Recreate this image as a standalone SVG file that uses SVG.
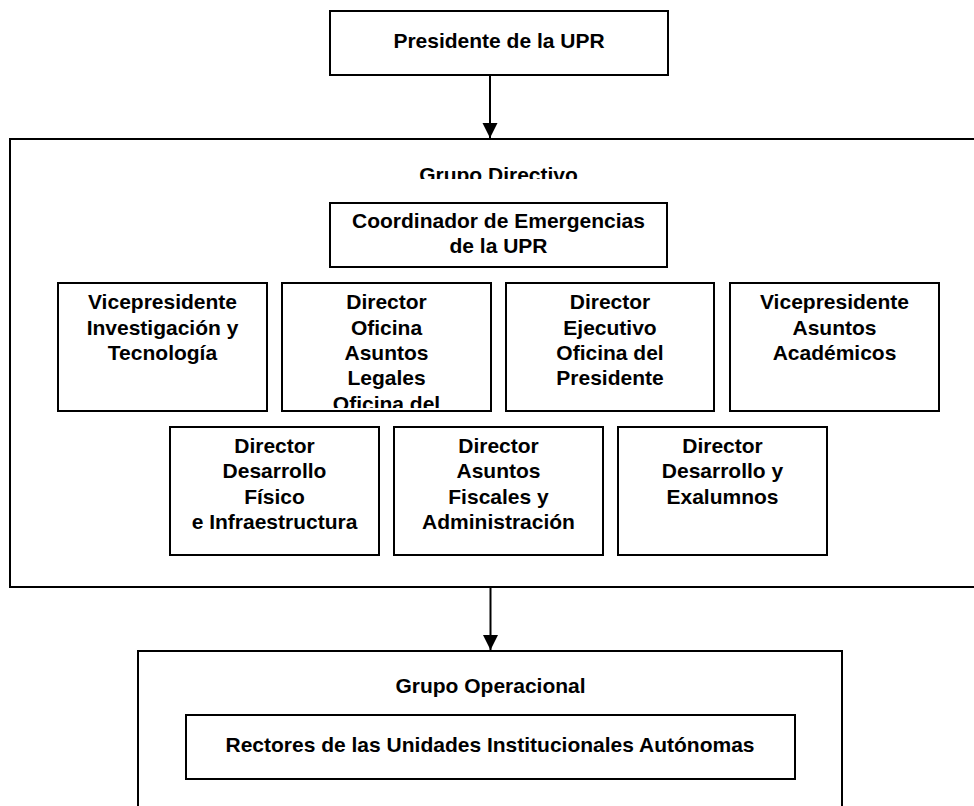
<svg xmlns="http://www.w3.org/2000/svg" width="974" height="806" viewBox="0 0 974 806">
<style>
.box{fill:#fff;stroke:#000;stroke-width:2}
.grp{fill:none;stroke:#000;stroke-width:2}
.t{font-family:"Liberation Sans",Arial,sans-serif;font-weight:bold;font-size:21px;fill:#000;text-anchor:middle}
.c{stroke:#000;stroke-width:2;fill:none}
</style>
<defs>
<marker id="ah" markerUnits="userSpaceOnUse" markerWidth="16" markerHeight="16" viewBox="0 0 16 16" refX="15" refY="8" orient="auto">
<path d="M0,0.5 L15,8 L0,15.5 Z" fill="#000"/>
</marker>
<clipPath id="cgd"><rect x="0" y="140" width="974" height="39"/></clipPath>
<clipPath id="cb2"><rect x="283" y="284" width="207" height="124"/></clipPath>
</defs>
<rect width="974" height="806" fill="#fff"/>

<g id="grupo-directivo">
<rect class="grp" x="10" y="139" width="980" height="448"/>
<text class="t" x="498.5" y="182" clip-path="url(#cgd)">Grupo Directivo</text>
</g>

<g id="grupo-operacional">
<rect class="grp" x="138" y="651" width="704" height="200"/>
<text class="t" x="490.5" y="693">Grupo Operacional</text>
</g>

<g id="presidente">
<rect class="box" x="330" y="11" width="338" height="64"/>
<text class="t" x="499" y="48">Presidente de la UPR</text>
</g>

<g id="coordinador">
<rect class="box" x="330" y="203" width="337" height="64"/>
<text class="t" x="498.5" y="228">Coordinador de Emergencias</text>
<text class="t" x="498.5" y="253">de la UPR</text>
</g>

<g id="vp-investigacion">
<rect class="box" x="58" y="283" width="209" height="128"/>
<text class="t" x="162.5" y="309">Vicepresidente</text>
<text class="t" x="162.5" y="335">Investigación y</text>
<text class="t" x="162.5" y="360">Tecnología</text>
</g>

<g id="dir-asuntos-legales">
<rect class="box" x="282" y="283" width="209" height="128"/>
<g clip-path="url(#cb2)">
<text class="t" x="386.5" y="309">Director</text>
<text class="t" x="386.5" y="335">Oficina</text>
<text class="t" x="386.5" y="360">Asuntos</text>
<text class="t" x="386.5" y="385">Legales</text>
<text class="t" x="386.5" y="411">Oficina del</text>
</g>
</g>

<g id="dir-ejecutivo">
<rect class="box" x="506" y="283" width="208" height="128"/>
<text class="t" x="610" y="309">Director</text>
<text class="t" x="610" y="335">Ejecutivo</text>
<text class="t" x="610" y="360">Oficina del</text>
<text class="t" x="610" y="385">Presidente</text>
</g>

<g id="vp-academicos">
<rect class="box" x="730" y="283" width="209" height="128"/>
<text class="t" x="834.5" y="309">Vicepresidente</text>
<text class="t" x="834.5" y="335">Asuntos</text>
<text class="t" x="834.5" y="360">Académicos</text>
</g>

<g id="dir-desarrollo-fisico">
<rect class="box" x="170" y="427" width="209" height="128"/>
<text class="t" x="274.5" y="453">Director</text>
<text class="t" x="274.5" y="478">Desarrollo</text>
<text class="t" x="274.5" y="504">Físico</text>
<text class="t" x="274.5" y="529">e Infraestructura</text>
</g>

<g id="dir-asuntos-fiscales">
<rect class="box" x="394" y="427" width="209" height="128"/>
<text class="t" x="498.5" y="453">Director</text>
<text class="t" x="498.5" y="478">Asuntos</text>
<text class="t" x="498.5" y="504">Fiscales y</text>
<text class="t" x="498.5" y="529">Administración</text>
</g>

<g id="dir-desarrollo-exalumnos">
<rect class="box" x="618" y="427" width="209" height="128"/>
<text class="t" x="722.5" y="453">Director</text>
<text class="t" x="722.5" y="478">Desarrollo y</text>
<text class="t" x="722.5" y="504">Exalumnos</text>
</g>

<g id="rectores">
<rect class="box" x="186" y="715" width="609" height="64"/>
<text class="t" x="490" y="752">Rectores de las Unidades Institucionales Autónomas</text>
</g>

<g id="connectors">
<line class="c" x1="490" y1="75" x2="490" y2="138" marker-end="url(#ah)"/>
<line class="c" x1="490.5" y1="587" x2="490.5" y2="650" marker-end="url(#ah)"/>
</g>
</svg>
